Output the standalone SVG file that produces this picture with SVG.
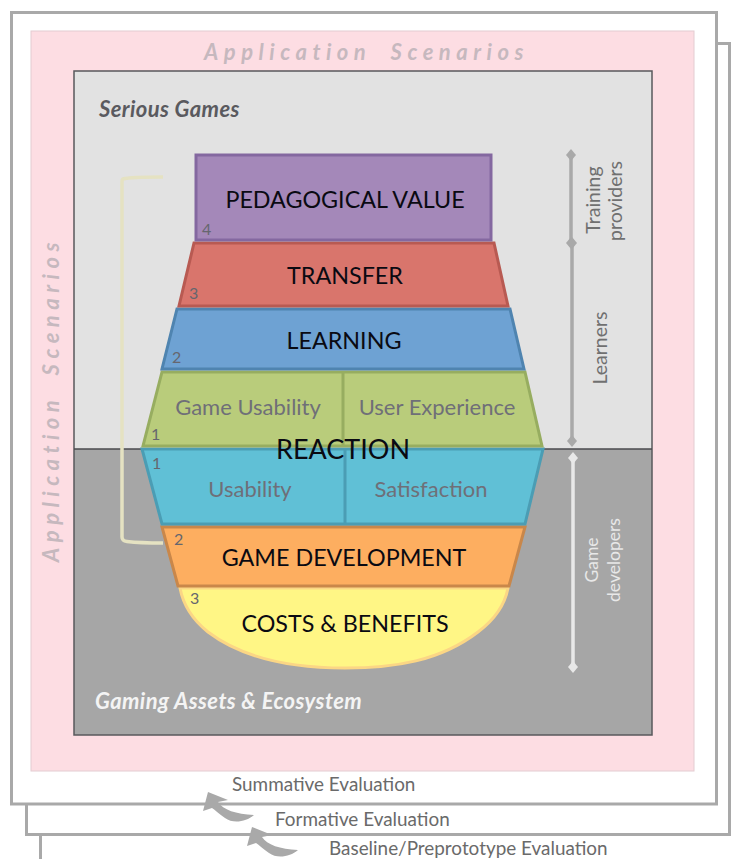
<svg xmlns="http://www.w3.org/2000/svg" width="731" height="859" viewBox="0 0 731 859">
<style>
text{font-family:Lato,"Noto Sans","Liberation Sans",sans-serif}
.frame{fill:#fff;stroke:#a9a9a9;stroke-width:3}
.main{font-size:23.300px;fill:#0a0a12;text-anchor:middle}
.sub{font-size:22px;fill:#6f6f78;text-anchor:middle}
.num{font-size:16px;fill:#66666e}
.eval{font-size:18.900px;fill:#6a6a6a}
.side{font-size:19.500px;fill:#707070;text-anchor:middle}
.scen{font-size:22px;font-style:italic;font-weight:700;fill:#c6b8be;letter-spacing:5.500px;word-spacing:9px}
.lab{font-size:22px;font-style:italic;font-weight:700;letter-spacing:.4px}
.conn{fill:none;stroke-width:3.500}
</style>
<defs>
<marker id="dg" viewBox="0 0 12 12" refX="6" refY="6" markerWidth="12" markerHeight="12" markerUnits="userSpaceOnUse"><path d="M6 0L11 6L6 12L1 6Z" fill="#a9a9a9"/></marker>
<marker id="dw" viewBox="0 0 12 12" refX="6" refY="6" markerWidth="12" markerHeight="12" markerUnits="userSpaceOnUse"><path d="M6 0L11 6L6 12L1 6Z" fill="#e8e8e8"/></marker>
<path id="curve" d="M0 0L20 8L10 10C15 18 28 22 46 23C38 30 25 32 17 26C11 22 7 18 4 16L-5 19Z" fill="#a9a9a9"/>
</defs>
<g id="frame-baseline"><path class="frame" d="M40.500 859V835M716 43.500H729.500V835"/></g>
<g id="frame-formative"><path class="frame" d="M26.500 804V834.500H733M716 43.500H733"/></g>
<g id="frame-summative"><rect class="frame" x="11.500" y="12.500" width="705" height="791.500"/></g>
<rect x="31" y="31" width="663" height="740" fill="#fddde3" stroke="#e3ccd1" stroke-width="1"/>
<rect x="74" y="71" width="578" height="378" fill="#e2e2e2"/>
<rect x="74" y="449" width="578" height="286" fill="#a6a6a6"/>
<rect x="74" y="71" width="578" height="664" fill="none" stroke="#58585c" stroke-width="1.500"/>
<path d="M74 449H652" stroke="#4a4a4e" stroke-width="1.500"/>
<text class="scen" x="204" y="60">Application Scenarios</text>
<text class="scen" transform="translate(59 562) rotate(-90)">Application Scenarios</text>
<text class="lab" x="99" y="117" fill="#5a5a5f">Serious Games</text>
<text class="lab" x="95" y="709" fill="#f4f4f4">Gaming Assets &amp; Ecosystem</text>
<g id="connectors">
<path class="conn" stroke="#e5e2c2" d="M163 177Q130 177 123 179Q122 179 122 182V537Q122 541 127 541.500Q140 543 163 543"/>
<path class="conn" stroke="#a9a9a9" marker-start="url(#dg)" marker-end="url(#dg)" d="M571 155V243"/>
<path class="conn" stroke="#a9a9a9" marker-start="url(#dg)" marker-end="url(#dg)" d="M572 243V441"/>
<path class="conn" stroke="#e8e8e8" marker-start="url(#dw)" marker-end="url(#dw)" d="M573 458V667"/>
<use href="#curve" x="208" y="792"/>
<use href="#curve" x="252" y="827"/>
</g>
<g id="costs-benefits">
<path d="M180 588H508C505 604 494 620 478 632C440 661 395 668 345 668C295 668 245 660 208 632C193 620 183 604 180 588Z" fill="#fff685" stroke="#fbd685" stroke-width="3"/>
<text class="main" x="345" y="632">COSTS &amp; BENEFITS</text>
<text class="num" x="190" y="604">3</text>
</g>
<g id="game-development">
<path d="M162 527H525L509 586H178Z" fill="#fdae60" stroke="#c9874a" stroke-width="3"/>
<text class="main" x="344" y="566">GAME DEVELOPMENT</text>
<text class="num" x="174" y="545">2</text>
</g>
<g id="usability-satisfaction">
<path d="M142 449H543L525 524H162Z" fill="#60c0d6" stroke="#4b9db4" stroke-width="3"/>
<path d="M345 449V524" stroke="#4b9db4" stroke-width="3"/>
<text class="sub" x="250" y="497">Usability</text>
<text class="sub" x="431" y="497">Satisfaction</text>
<text class="num" x="152" y="469">1</text>
</g>
<g id="game-usability-experience">
<path d="M162 372H525L542 446H143Z" fill="#b9cc7b" stroke="#97ad60" stroke-width="3"/>
<path d="M343 372V446" stroke="#97ad60" stroke-width="3"/>
<text class="sub" x="248" y="415">Game Usability</text>
<text class="sub" x="437" y="415">User Experience</text>
<text class="num" x="151" y="440">1</text>
</g>
<g id="reaction"><text class="main" x="343" y="459" style="font-size:27px">REACTION</text></g>
<g id="learning">
<path d="M177 309H510L524 369H162Z" fill="#6ea2d3" stroke="#4f84b0" stroke-width="3"/>
<text class="main" x="344" y="349">LEARNING</text>
<text class="num" x="172" y="363">2</text>
</g>
<g id="transfer">
<path d="M194 243H494L508 306H179Z" fill="#d9756c" stroke="#b85a52" stroke-width="3"/>
<text class="main" x="345" y="284">TRANSFER</text>
<text class="num" x="189" y="299">3</text>
</g>
<g id="pedagogical-value">
<rect x="196" y="155" width="295" height="85" fill="#a488b9" stroke="#8468a0" stroke-width="3"/>
<text class="main" x="345" y="208">PEDAGOGICAL VALUE</text>
<text class="num" x="202" y="235">4</text>
</g>
<text class="side" transform="translate(600 200) rotate(-90)">Training</text>
<text class="side" transform="translate(622 201) rotate(-90)">providers</text>
<text class="side" transform="translate(607 348) rotate(-90)">Learners</text>
<text class="side" transform="translate(598 560) rotate(-90)" style="fill:#e8e8e8;font-size:17.500px">Game</text>
<text class="side" transform="translate(620 560) rotate(-90)" style="fill:#e8e8e8;font-size:17.500px">developers</text>
<text class="eval" x="232" y="791">Summative Evaluation</text>
<text class="eval" x="275" y="826">Formative Evaluation</text>
<text class="eval" x="329" y="855">Baseline/Preprototype Evaluation</text>
</svg>
